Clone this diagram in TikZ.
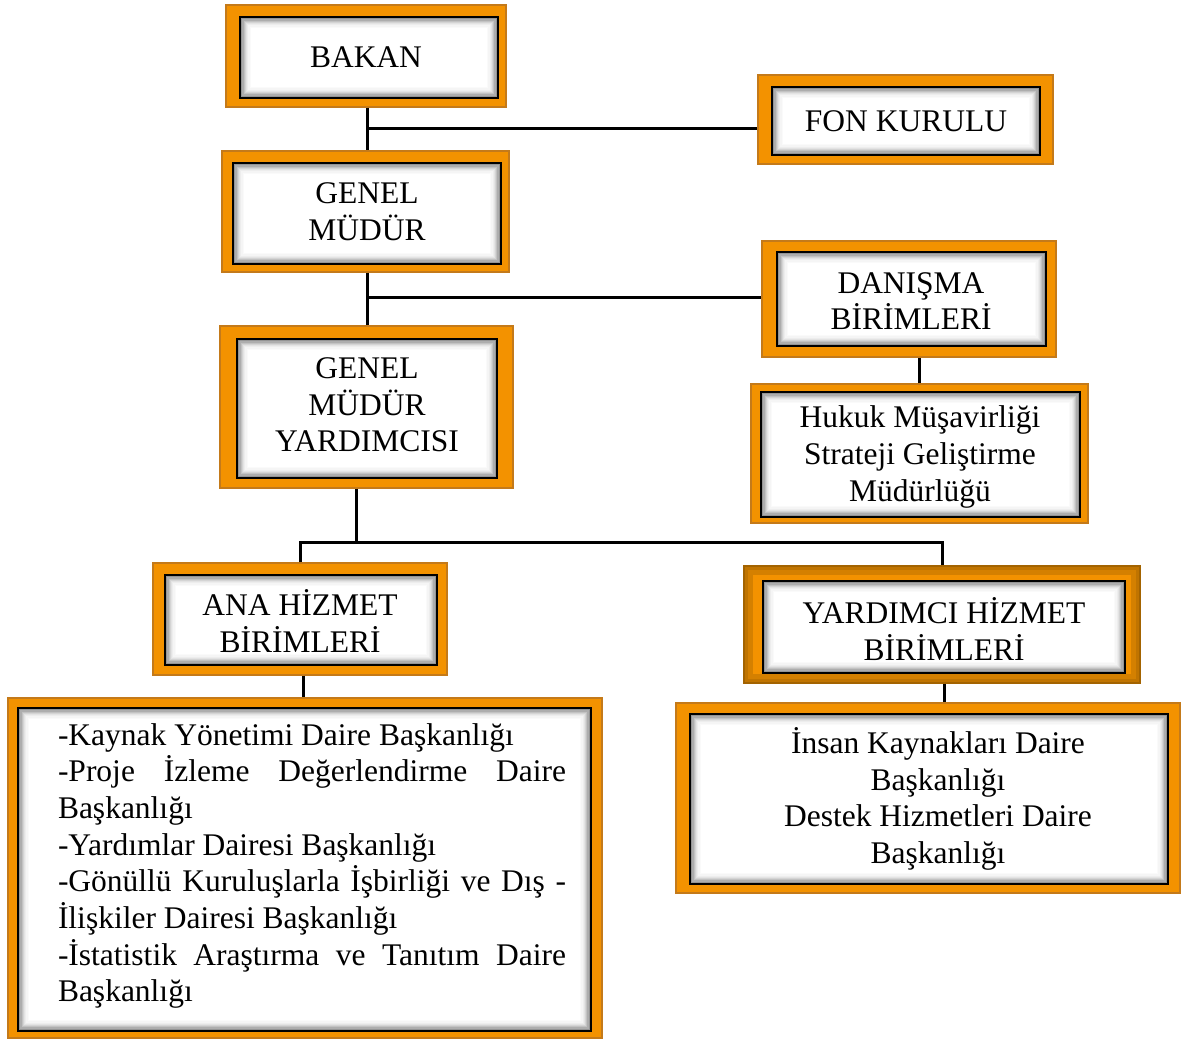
\documentclass[tikz,border=0pt]{standalone}
\usepackage{fontspec}
\setmainfont{Liberation Serif}
\usetikzlibrary{fit,calc}
\definecolor{orgfill}{HTML}{F39200}
\definecolor{orgline}{HTML}{C47A1A}
\definecolor{orgdark}{HTML}{C07400}
\tikzset{
  frame/.style={inner sep=0pt, draw=orgline, fill=orgfill, line width=1.2pt},
  conn/.style={line width=3pt, black},
  txt/.style={align=center, inner sep=0pt, font=\fontsize{31.5}{36.7}\selectfont},
}
% #1 name, #2-#5 outer rect, #6-#9 inner rect
\newcommand\orgbox[9]{%
  \node[frame, fit={(#2,#3) (#4,#5)}] (#1) {};
  \foreach \k/\c in {0/55,1.2/42,2.4/32,3.6/24,4.8/17,6/11,7.2/7,8.4/4,9.6/2,10.8/0}{
    \fill[black!\c] ({#6+\k},{#7+\k}) rectangle ({#8-\k},{#9-\k});
  }
  \draw[line width=1.6pt, black] (#6,#7) rectangle (#8,#9);
}
\begin{document}
\begin{tikzpicture}[x=1pt,y=-1pt]
\useasboundingbox (0,0) rectangle (1193,1038);
\fill[white] (0,0) rectangle (1193,1038);

% boxes
\orgbox{bakan}{226}{5}{506}{107}{240}{17}{498}{98}
\orgbox{fon}{758}{75}{1053}{164}{772}{87}{1040}{155}
\orgbox{gm}{222}{151}{509}{272}{233}{163}{501}{264}
\orgbox{dan}{762}{241}{1056}{357}{777}{252}{1046}{346}
\orgbox{gmy}{220}{326}{513}{488}{237}{339}{497}{478}
\orgbox{huk}{751}{384}{1088}{523}{761}{392}{1080}{517}
\orgbox{ana}{153}{563}{447}{675}{165}{575}{437}{665}
\node[frame, fill=orgdark, draw=orgdark!85!black, fit={(744,566) (1140,683)}] (yard) {};
\fill[orgdark!60!orgfill] (748,570) rectangle (1136,679);
\fill[orgfill] (753,575) rectangle (1131,674);
\foreach \k/\c in {0/55,1.2/42,2.4/32,3.6/24,4.8/17,6/11,7.2/7,8.4/4,9.6/2,10.8/0}{
  \fill[black!\c] ({763+\k},{581+\k}) rectangle ({1125-\k},{673-\k});
}
\draw[line width=1.6pt, black] (763,581) rectangle (1125,673);
\orgbox{lbox}{8}{698}{602}{1038}{18}{708}{591}{1031}
\orgbox{rbox}{676}{703}{1180}{893}{690}{714}{1168}{884}

% texts
\node[txt] (bakan-t) at (366,57) {BAKAN};
\node[txt] (fon-t) at (906,121) {FON KURULU};
\node[txt] (gm-t) at (367,212) {GENEL\\MÜDÜR};
\node[txt] (dan-t) at (911,301) {DANIŞMA\\BİRİMLERİ};
\node[txt] (gmy-t) at (367,405) {GENEL\\MÜDÜR\\YARDIMCISI};
\node[txt] (huk-t) at (920,457) {Hukuk Müşavirliği\\Strateji Geliştirme\\Müdürlüğü};
\node[txt] (ana-t) at (300,621) {ANA HİZMET\\BİRİMLERİ};
\node[txt] (yard-t) at (944,629) {YARDIMCI HİZMET\\BİRİMLERİ};
\node[txt] (rbox-t) at (938,799) {İnsan Kaynakları Daire\\Başkanlığı\\Destek Hizmetleri Daire\\Başkanlığı};
\node[txt, align=left] (lbox-t) at (312,866) {%
-Kaynak Yönetimi Daire Başkanlığı\\
\hbox to 508pt{-Proje\hfill İzleme\hfill Değerlendirme\hfill Daire}\\
Başkanlığı\\
-Yardımlar Dairesi Başkanlığı\\
\hbox to 508pt{-Gönüllü\hfill Kuruluşlarla\hfill İşbirliği\hfill ve\hfill Dış\hfill -}\\
İlişkiler Dairesi Başkanlığı\\
\hbox to 508pt{-İstatistik\hfill Araştırma\hfill ve\hfill Tanıtım\hfill Daire}\\
Başkanlığı};

% connectors
\coordinate (j1) at (367,129);
\coordinate (j2) at (367,297);
\coordinate (j3) at (356,542);
\draw[conn] (bakan.south -| j1) -- (gm.north -| j1);
\draw[conn] (j1) -- (j1 -| fon.west);
\draw[conn] (gm.south -| j2) -- (gmy.north -| j2);
\draw[conn] (j2) -- (j2 -| dan.west);
\draw[conn] (huk.north) -- (huk.north |- dan.south);
\draw[conn] (gmy.south -| j3) -- (j3);
\draw[conn] (ana.north) |- (yard.north |- j3) -- (yard.north);
\draw[conn] ([xshift=3pt]ana.south) -- ([xshift=3pt]ana.south |- lbox.north);
\draw[conn] ([xshift=2pt]yard.south) -- ([xshift=2pt]yard.south |- rbox.north);
\end{tikzpicture}
\end{document}
